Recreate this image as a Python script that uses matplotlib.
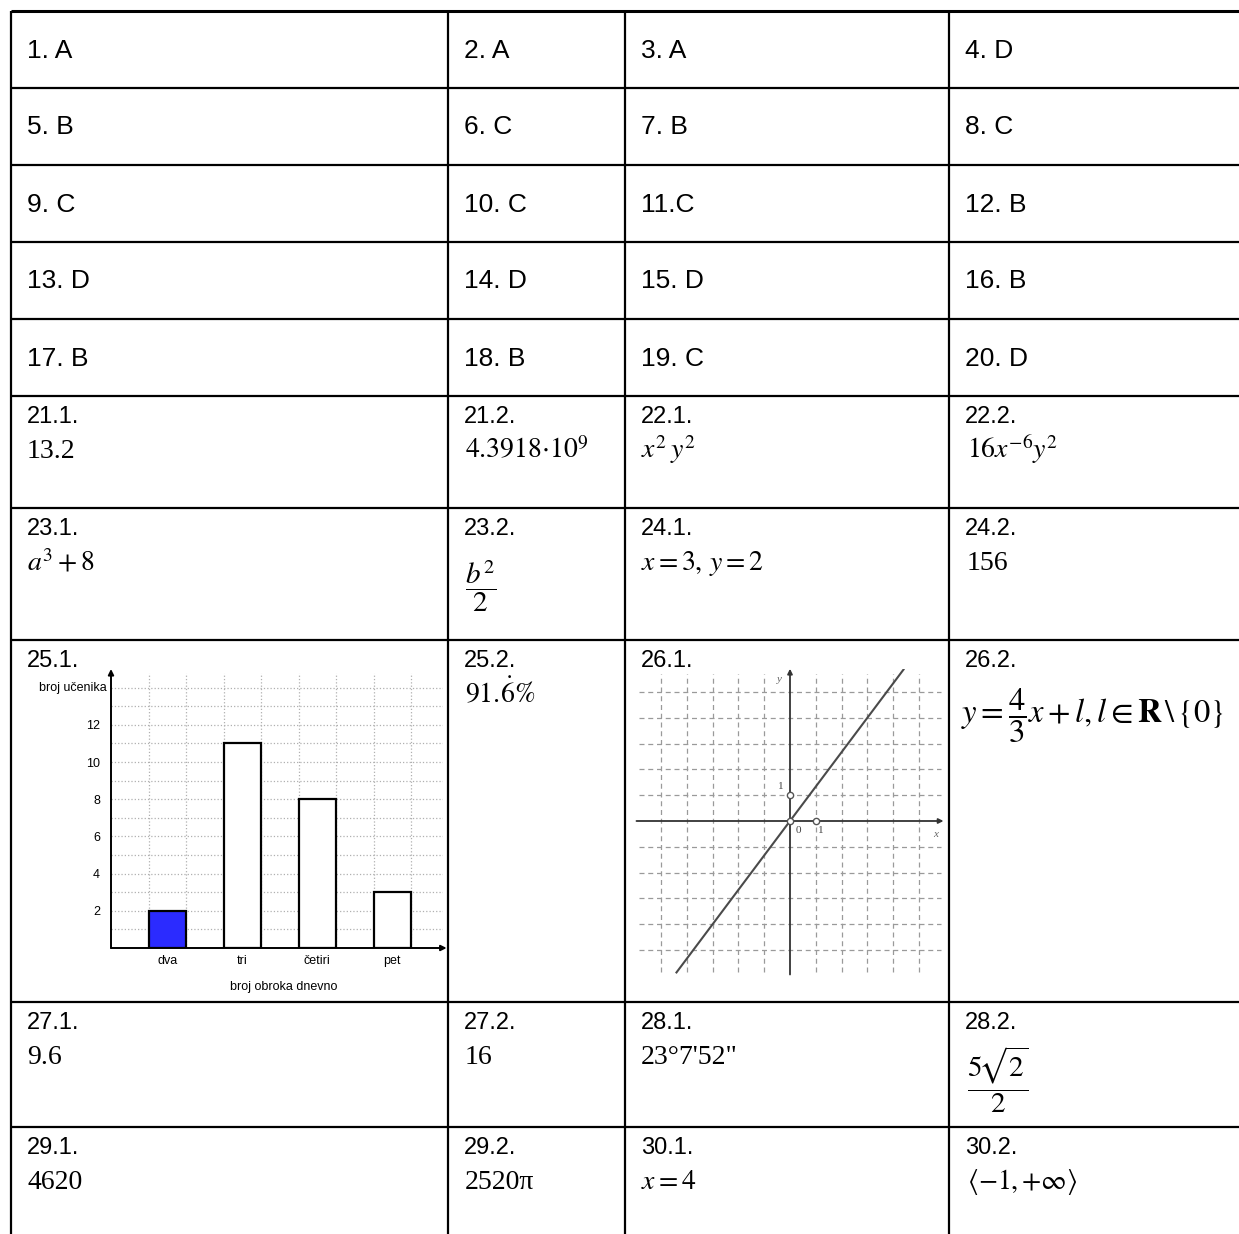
import matplotlib
matplotlib.use('Agg')
import matplotlib.pyplot as plt

plt.rcParams['mathtext.fontset'] = 'stix'

W, H = 1239, 1234
SANS = 'Liberation Sans'
SERIF = 'Liberation Serif'

# ---------------- data ----------------
mc_answers = ["1. A", "2. A", "3. A", "4. D",
              "5. B", "6. C", "7. B", "8. C",
              "9. C", "10. C", "11.C", "12. B",
              "13. D", "14. D", "15. D", "16. B",
              "17. B", "18. B", "19. C", "20. D"]

open_labels = [["21.1.", "21.2.", "22.1.", "22.2."],
               ["23.1.", "23.2.", "24.1.", "24.2."],
               ["25.1.", "25.2.", "26.1.", "26.2."],
               ["27.1.", "27.2.", "28.1.", "28.2."],
               ["29.1.", "29.2.", "30.1.", "30.2."]]

open_answers = [["13.2", r"$4.3918{\cdot}10^{9}$", r"$x^{2}\,y^{2}$", r"$16x^{-6}y^{2}$"],
                [r"$a^{3}+8$", r"$\dfrac{b^{2}}{2}$", r"$x=3,\,y=2$", "156"],
                [None, r"$91.\!\dot{6}\%$", None,
                 r"$y=\dfrac{4}{3}x+l,l\in\mathbf{R}\,\backslash\,\{0\}$"],
                ["9.6", "16", "23°7'52\"", r"$\dfrac{5\!\sqrt{2}}{2}$"],
                ["4620", "2520π", r"$x=4$", r"$\left\langle {-}1,{+}\infty\right\rangle$"]]

# bar chart (25.1.)
meal_categories = ["dva", "tri", "četiri", "pet"]
meal_counts = [2, 11, 8, 3]
meal_colors = ["#2b2bff", "white", "white", "white"]
count_ticks = [2, 4, 6, 8, 10, 12]

# line graph (26.1.)
line_x = [-4.4, 4.4]
line_y = [-5.87, 5.87]
point_x = [0, 1, 0]
point_y = [0, 0, 1]

# ---------------- layout ----------------
col_x = [11, 448, 625, 949]
row_y = [11, 88, 165, 242, 319, 396, 508, 640, 1002, 1127]

fig = plt.figure(figsize=(W / 100, H / 100), dpi=100)
ax = fig.add_axes([0, 0, 1, 1])
ax.set_xlim(0, W)
ax.set_ylim(H, 0)
ax.axis('off')

lw = 1.6
for i, y in enumerate(row_y):
    ax.plot([col_x[0], W], [y, y], color='black', lw=2.2 if i == 0 else lw,
            solid_capstyle='butt')
for x in col_x:
    ax.plot([x, x], [row_y[0], H], color='black', lw=lw, solid_capstyle='butt')

# multiple choice rows
for k, txt in enumerate(mc_answers):
    r, c = divmod(k, 4)
    yc = (row_y[r] + row_y[r + 1]) / 2
    ax.text(col_x[c] + 16, yc + 1, txt, fontsize=19, family=SANS,
            ha='left', va='center')

# open rows
ans_dx = [16, 17, 16, 18]
serif_size = 20
for r in range(5):
    top = row_y[5 + r]
    for c in range(4):
        ax.text(col_x[c] + 16, top + 27, open_labels[r][c], fontsize=17,
                family=SANS, ha='left', va='baseline')
        a = open_answers[r][c]
        if a is None:
            continue
        x = col_x[c] + ans_dx[c]
        if 'dfrac' in a:
            if 'y=' in a:
                ax.text(x - 6, top + 76, a, fontsize=23.5, ha='left', va='center')
            else:
                ax.text(x, top + 78, a, fontsize=21, ha='left', va='center')
        elif a.startswith('$'):
            ax.text(x, top + 62, a, fontsize=serif_size, ha='left', va='baseline')
        else:
            ax.text(x, top + 62, a, fontsize=serif_size, family=SERIF,
                    ha='left', va='baseline')

# ---------------- bar chart inset ----------------
ox, oy, ux, uy = 111, 948, 37.5, 18.6
xmax, ymax = 8.85, 14.8
bax = fig.add_axes([ox / W, 1 - oy / H, xmax * ux / W, ymax * uy / H])
bax.set_xlim(0, xmax)
bax.set_ylim(0, ymax)
for s in bax.spines.values():
    s.set_visible(False)
for gy in range(1, 15):
    bax.plot([0, xmax], [gy, gy], ls=':', color='#b0b0b0', lw=0.9, zorder=1)
for gx in range(1, 9):
    bax.plot([gx, gx], [0, ymax], ls=':', color='#b0b0b0', lw=0.9, zorder=1)
centers = [1.5, 3.5, 5.5, 7.5]
bax.bar(centers, meal_counts, width=1, color=meal_colors, edgecolor='black',
        linewidth=1.6, zorder=3)
bax.annotate('', xy=(0, ymax + 0.2), xytext=(0, 0),
             arrowprops=dict(arrowstyle='-|>', color='black', lw=1.4,
                             mutation_scale=8, shrinkA=0, shrinkB=0),
             annotation_clip=False)
bax.annotate('', xy=(xmax + 0.1, 0), xytext=(0, 0),
             arrowprops=dict(arrowstyle='-|>', color='black', lw=1.4,
                             mutation_scale=8, shrinkA=0, shrinkB=0),
             annotation_clip=False)
bax.set_yticks(count_ticks)
bax.set_yticklabels([str(t) for t in count_ticks], family=SANS, fontsize=9)
bax.set_xticks(centers)
bax.set_xticklabels(meal_categories, family=SANS, fontsize=9)
bax.tick_params(length=0, pad=8)
bax.tick_params(axis='x', pad=5)
bax.text(-0.12, 14, 'broj učenika', family=SANS, fontsize=9, ha='right',
         va='center')
bax.text(4.6, -2.1, 'broj obroka dnevno', family=SANS, fontsize=9,
         ha='center', va='center')
bax.patch.set_alpha(0)

# ---------------- line graph inset ----------------
gx0, gy0, u = 790, 821, 25.8
xl, xr, yb, yt = -5.95, 5.95, -5.95, 5.9
gax = fig.add_axes([(gx0 + xl * u) / W, 1 - (gy0 - yb * u) / H,
                    (xr - xl) * u / W, (yt - yb) * u / H])
gax.set_xlim(xl, xr)
gax.set_ylim(yb, yt)
gax.axis('off')
for k in range(-5, 6):
    if k == 0:
        continue
    gax.plot([xl + 0.1, xr - 0.1], [k, k], ls=(0, (4, 3)), color='#9a9a9a', lw=0.9)
    gax.plot([k, k], [yb + 0.1, yt - 0.2], ls=(0, (4, 3)), color='#9a9a9a', lw=0.9)
gax.annotate('', xy=(xr, 0), xytext=(xl, 0),
             arrowprops=dict(arrowstyle='-|>', color='#333333', lw=1.3,
                             mutation_scale=7, shrinkA=0, shrinkB=0))
gax.annotate('', xy=(0, yt), xytext=(0, yb),
             arrowprops=dict(arrowstyle='-|>', color='#333333', lw=1.3,
                             mutation_scale=7, shrinkA=0, shrinkB=0))
gax.plot(line_x, line_y, color='#4a4a4a', lw=1.5)
gax.plot(point_x, point_y, ls='none', marker='o', ms=4.5, mfc='white',
         mec='#555555', mew=1.0, zorder=5)
gax.text(0.2, -0.2, '0', family=SERIF, fontsize=8, color='#444444', va='top')
gax.text(1.1, -0.2, '1', family=SERIF, fontsize=8, color='#444444', va='top')
gax.text(-0.25, 1.35, '1', family=SERIF, fontsize=8, color='#444444', ha='right',
         va='center')
gax.text(-0.3, 5.5, 'y', family=SERIF, fontsize=8, style='italic',
         color='#666666', ha='right', va='center')
gax.text(5.65, -0.35, 'x', family=SERIF, fontsize=8, style='italic',
         color='#666666', ha='center', va='top')

fig.savefig('out.png', dpi=100)
